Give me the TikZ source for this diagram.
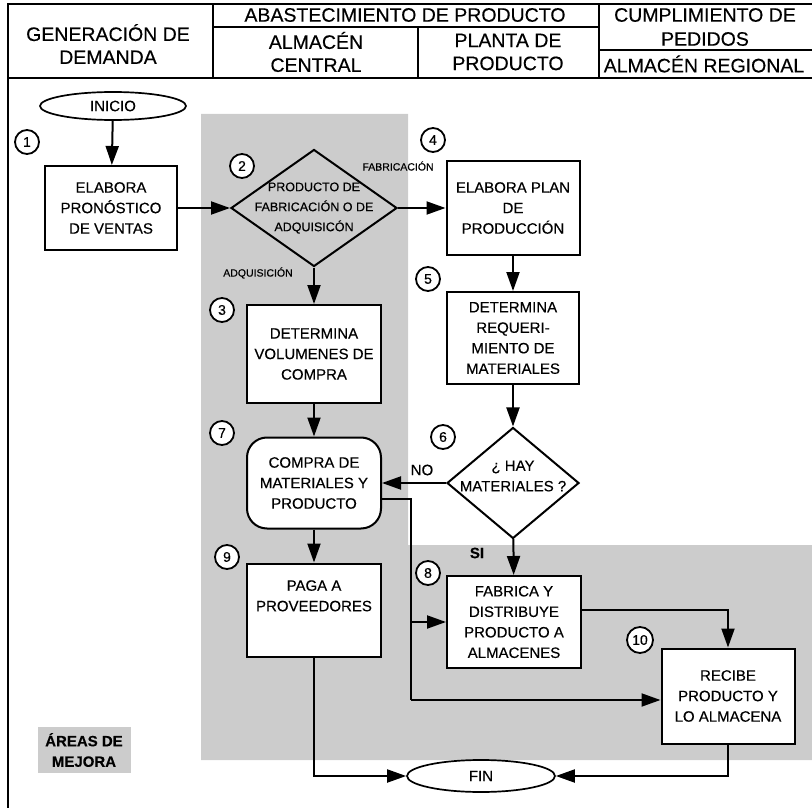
\documentclass[tikz,border=0pt]{standalone}
\usepackage{fontspec}
\setmainfont{Liberation Sans}[FakeBold=0.35]
\usetikzlibrary{shapes.geometric,arrows.meta}
\newcommand{\bxfont}{\fontsize{15}{20.5}\selectfont}
\newcommand{\hdfont}{\fontsize{19.5}{23}\selectfont}
\newcommand{\dmfont}{\fontsize{12.5}{20}\selectfont}
\newcommand{\lbfont}{\fontsize{10.5}{12}\selectfont}
\newcommand{\nmfont}{\fontsize{14}{14}\selectfont}
\definecolor{zone}{gray}{0.80}

\begin{document}
\begin{tikzpicture}[x=1pt,y=-1pt,
  proc/.style={draw,fill=white,line width=2pt,minimum width=134pt,inner sep=0pt,align=center,font=\bxfont},
  term/.style={draw,fill=white,ellipse,line width=1.7pt,inner sep=0pt,font=\bxfont},
  decision/.style={draw,diamond,line width=2pt,inner sep=0pt},
  num/.style={draw,circle,line width=1.8pt,fill=white,minimum size=24pt,inner sep=0pt,font=\nmfont},
  arr/.style={line width=2pt,-{Triangle[length=19pt,width=13pt]}},
  wire/.style={line width=2pt},
  rule/.style={line width=1.3pt},
  hd/.style={font=\hdfont,inner sep=0pt,align=center},
  tag/.style={font=\lbfont,inner sep=0pt}]
\useasboundingbox (0,0) rectangle (812,808);

% shaded improvement zone
\fill[zone] (201,114) -- (408,114) -- (408,545) -- (812,545) -- (812,760) -- (201,760) -- cycle;

% header grid
\draw[rule] (8,808) -- (8,4) -- (812,4);
\draw[rule] (8,78) -- (812,78);
\draw[rule] (213,4) -- (213,78);
\draw[rule] (599,4) -- (599,78);
\draw[rule] (213,27) -- (599,27);
\draw[rule] (418,27) -- (418,78);
\draw[rule] (599,50) -- (812,50);

\node[hd] (hgen) at (108,44) {GENERACIÓN DE\\DEMANDA};
\node[hd] (habs) at (405,15) {ABASTECIMIENTO DE PRODUCTO};
\node[hd] (halm) at (316,52) {ALMACÉN\\CENTRAL};
\node[hd] (hpla) at (508,52) {PLANTA DE\\PRODUCTO};
\node[hd] (hcum) at (705,15) {CUMPLIMIENTO DE};
\node[hd] (hped) at (705,39) {PEDIDOS};
\node[hd] (hreg) at (704,64) {ALMACÉN REGIONAL};

% process nodes
\node[term,minimum width=146pt,minimum height=28pt] (ini) at (113,106) {INICIO};
\node[proc,minimum width=132pt,minimum height=84pt] (b1) at (111,208) {ELABORA\\PRONÓSTICO\\DE VENTAS};
\node[decision,minimum width=166pt,minimum height=117pt] (d2) at (314,208) {};
\node[font=\dmfont,align=center,inner sep=0pt] (t2) at (d2) {PRODUCTO DE\\FABRICACIÓN O DE\\ADQUISICÓN};
\node[proc,minimum width=133pt,minimum height=94pt] (b4) at (513,208) {ELABORA PLAN\\DE\\PRODUCCIÓN};
\node[proc,minimum height=98pt] (b3) at (314,354) {DETERMINA\\VOLUMENES DE\\COMPRA};
\node[proc,minimum width=132pt,minimum height=92pt] (b5) at (513,338) {DETERMINA\\REQUERI-\\MIENTO DE\\MATERIALES};
\node[decision,minimum width=132pt,minimum height=111pt] (d6) at (513,483) {};
\node[font=\bxfont,align=center,inner sep=0pt] (t6) at (513,476) {¿ HAY\\MATERIALES ?};
\node[proc,rounded corners=20pt,minimum height=91pt] (b7) at (314,483) {COMPRA DE\\MATERIALES Y\\PRODUCTO};
\node[proc,minimum height=93pt] (b9) at (314,610) {PAGA A\\PROVEEDORES\\[8pt]};
\node[proc,minimum height=92pt] (b8) at (514,622) {FABRICA Y\\DISTRIBUYE\\PRODUCTO A\\ALMACENES};
\node[proc,minimum width=133pt,minimum height=95pt] (b10) at (728,696) {RECIBE\\PRODUCTO Y\\LO ALMACENA};
\node[term,minimum width=148pt,minimum height=32pt] (fin) at (481,776) {FIN};

% step numbers
\node[num] (n1) at (27,142) {1};
\node[num] (n2) at (242,166) {2};
\node[num] (n3) at (222,310) {3};
\node[num] (n4) at (433,140) {4};
\node[num] (n5) at (428,279) {5};
\node[num] (n6) at (443,437) {6};
\node[num] (n7) at (222,433) {7};
\node[num] (n8) at (428,573) {8};
\node[num] (n9) at (227,557) {9};
\node[num,minimum size=26pt] (n10) at (640,640) {10};

% branch labels
\node[tag] (lfab) at (398,166) {FABRICACIÓN};
\node[tag] (ladq) at (258,273) {ADQUISICIÓN};
\node[font=\bxfont,inner sep=0pt] (lno) at (422,470) {NO};
\node[font=\bxfont\bfseries,inner sep=0pt] (lsi) at (477,553) {SI};

% legend
\node[fill=zone,font=\bxfont\bfseries,align=center,inner sep=2pt,minimum width=93pt,minimum height=46pt] (leg) at (84,750) {ÁREAS DE\\MEJORA};

% connectors
\draw[arr] (ini) -- (b1);
\draw[arr] (b1) -- (d2);
\draw[arr] (d2) -- (b4);
\draw[arr] (d2) -- (b3);
\draw[arr] (b4) -- (b5);
\draw[arr] (b3) -- (b7);
\draw[arr] (b5) -- (d6);
\draw[arr] (d6) -- (b7);
\draw[arr] (d6) -- (b8);
\draw[arr] (b7) -- (b9);
\coordinate (jtop) at (411,499);
\coordinate (jmid) at (411,622);
\coordinate (jlow) at (411,700);
\draw[wire] ([yshift=-16pt]b7.east) -- (jtop) -- (jlow);
\draw[arr] (jlow) -- (jlow -| b10.west);
\draw[arr] (jmid) -- (b8);
\draw[arr] ([yshift=12pt]b8.east) -| (b10);
\draw[arr] (b9) |- (fin);
\draw[arr] (b10) |- (fin);
\end{tikzpicture}
\end{document}
